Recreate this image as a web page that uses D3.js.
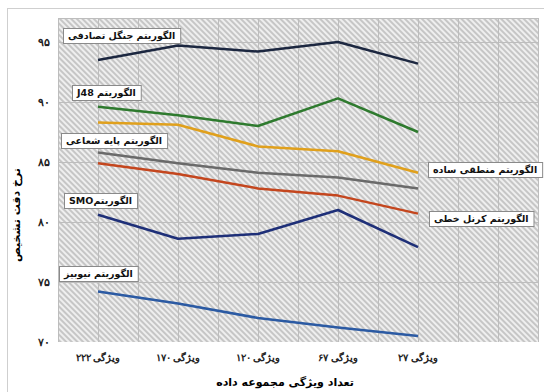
<!DOCTYPE html>
<html>
<head>
<meta charset="utf-8">
<script src="https://cdn.jsdelivr.net/npm/d3@7"></script>
<style>
  body { margin: 0; background: #fff; }
  svg { display: block; font-family: 'DejaVu Sans', sans-serif; }
</style>
</head>
<body>
<div id="chart"></div>
<script>
// داده ها
const categories = ['۲۲۲ ویژگی', '۱۷۰ ویژگی', '۱۲۰ ویژگی', '۶۷ ویژگی', '۲۷ ویژگی']
const randomForest = [93.5, 94.7, 94.2, 95.0, 93.2]
const j48 = [89.6, 88.9, 88.0, 90.3, 87.5]
const simpleLogistic = [88.3, 88.1, 86.3, 85.9, 84.1]
const radialBasis = [85.8, 84.9, 84.1, 83.7, 82.8]
const linearKernel = [84.9, 84.0, 82.8, 82.2, 80.7]
const smo = [80.6, 78.6, 79.0, 81.0, 77.9]
const naiveBayes = [74.2, 73.2, 72.0, 71.2, 70.5]
const yTicks = [70, 75, 80, 85, 90, 95]

const series = [
  { name: 'الگوریتم جنگل تصادفی', values: randomForest, color: '#1c2740' },
  { name: 'الگوریتم J48', values: j48, color: '#2e7a2e' },
  { name: 'الگوریتم منطقی ساده', values: simpleLogistic, color: '#e0a01c' },
  { name: 'الگوریتم پایه شعاعی', values: radialBasis, color: '#6a6a6a' },
  { name: 'الگوریتم کرنل خطی', values: linearKernel, color: '#c4461e' },
  { name: 'الگوریتمSMO', values: smo, color: '#1e2f78' },
  { name: 'الگوریتم نیوبیز', values: naiveBayes, color: '#2b5aa3' }
]

// جای برچسب ها (پیکسل)
const labelPos = [[63, 28], [72, 85], [428, 162], [61, 133], [429, 211], [64, 193], [59, 266]]

const width = 544
const height = 392
const mLeft = 58, mRight = 538, mTop = 18, mBottom = 342

const faDigits = n => String(n).replace(/\d/g, d => '۰۱۲۳۴۵۶۷۸۹'[d])

const svg = d3.select('#chart').append('svg')
  .attr('width', width)
  .attr('height', height)

// قاب بیرونی
svg.append('rect')
  .attr('x', 7.5).attr('y', 8.5)
  .attr('width', 560).attr('height', 400)
  .style('fill', 'none')
  .style('stroke', '#cfcfcf')

const defs = svg.append('defs')
const pat = defs.append('pattern')
  .attr('id', 'hatch')
  .attr('patternUnits', 'userSpaceOnUse')
  .attr('width', 4).attr('height', 4)
  .attr('patternTransform', 'rotate(-45)')
pat.append('rect').attr('width', 4).attr('height', 4).style('fill', '#efefef')
pat.append('line').attr('x1', 1).attr('y1', 0).attr('x2', 1).attr('y2', 4)
  .style('stroke', '#c6c6c6').style('stroke-width', 2)

const xScale = d3.scaleBand().domain([...categories, '']).range([mLeft, mRight]).padding(0)
const bw = xScale.bandwidth()
const yScale = d3.scaleLinear().domain([70, 97]).range([mBottom, mTop])

svg.append('rect')
  .attr('x', mLeft).attr('y', mTop)
  .attr('width', mRight - mLeft).attr('height', mBottom - mTop)
  .style('fill', 'url(#hatch)')

// خطوط شبکه
const grid = svg.append('g').classed('grid', true)
const vx = []
xScale.domain().forEach(c => { vx.push(xScale(c)); vx.push(xScale(c) + bw / 2) })
vx.push(mRight)
grid.selectAll('line.v').data(vx).enter().append('line')
  .attr('x1', d => d + 0.5).attr('x2', d => d + 0.5)
  .attr('y1', mTop).attr('y2', mBottom)
  .style('stroke', '#bdbdbd')
grid.selectAll('line.h').data([...yTicks.slice(1), 97]).enter().append('line')
  .attr('x1', mLeft).attr('x2', mRight)
  .attr('y1', d => Math.round(yScale(d)) + 0.5).attr('y2', d => Math.round(yScale(d)) + 0.5)
  .style('stroke', '#bdbdbd')

// محورها
const yAxis = d3.axisLeft(yScale).tickValues(yTicks).tickSize(0).tickPadding(8).tickFormat(faDigits)
const yAxisg = svg.append('g').attr('transform', `translate(${mLeft}, 0)`).call(yAxis)
yAxisg.select('.domain').remove()
yAxisg.selectAll('text').style('font-size', '11px').style('font-weight', 'bold').style('fill', '#222')

const xAxis = d3.axisBottom(xScale).tickValues(categories).tickSize(0).tickPadding(12)
const xAxisg = svg.append('g').attr('transform', `translate(0, ${mBottom})`).call(xAxis)
xAxisg.select('.domain').remove()
xAxisg.selectAll('text').style('font-size', '10px').style('font-weight', 'bold').style('fill', '#222')

svg.append('text')
  .attr('x', 285).attr('y', 386)
  .attr('text-anchor', 'middle')
  .style('font-size', '11px').style('font-weight', 'bold')
  .text('تعداد ویژگی مجموعه داده')

svg.append('text')
  .attr('transform', 'translate(20, 215) rotate(-90)')
  .attr('text-anchor', 'middle')
  .style('font-size', '11px').style('font-weight', 'bold')
  .text('نرخ دقت تشخیص')

// خطوط
const line = d3.line()
  .x((d, i) => xScale(categories[i]) + bw / 2)
  .y(d => yScale(d))

svg.append('g').selectAll('path').data(series).enter().append('path')
  .attr('d', d => line(d.values))
  .style('fill', 'none')
  .style('stroke', d => d.color)
  .style('stroke-width', 2.5)
  .style('stroke-linejoin', 'round')

// برچسب ها
const lab = svg.append('g').selectAll('g').data(series).enter().append('g')
  .attr('transform', (d, i) => `translate(${labelPos[i][0]}, ${labelPos[i][1]})`)
lab.append('rect')
  .attr('x', 0.5).attr('y', 0.5).attr('height', 15)
  .style('fill', '#fff')
  .style('stroke', '#8a8a8a')
const texts = lab.append('text')
  .attr('y', 11)
  .attr('direction', 'rtl')
  .attr('text-anchor', 'middle')
  .style('font-size', '9.5px').style('font-weight', 'bold')
  .style('fill', '#111')
  .text(d => d.name)
texts.each(function () {
  const w = this.getComputedTextLength()
  d3.select(this).attr('x', 5 + w / 2)
  d3.select(this.parentNode).select('rect').attr('width', w + 10)
})
</script>
</body>
</html>
